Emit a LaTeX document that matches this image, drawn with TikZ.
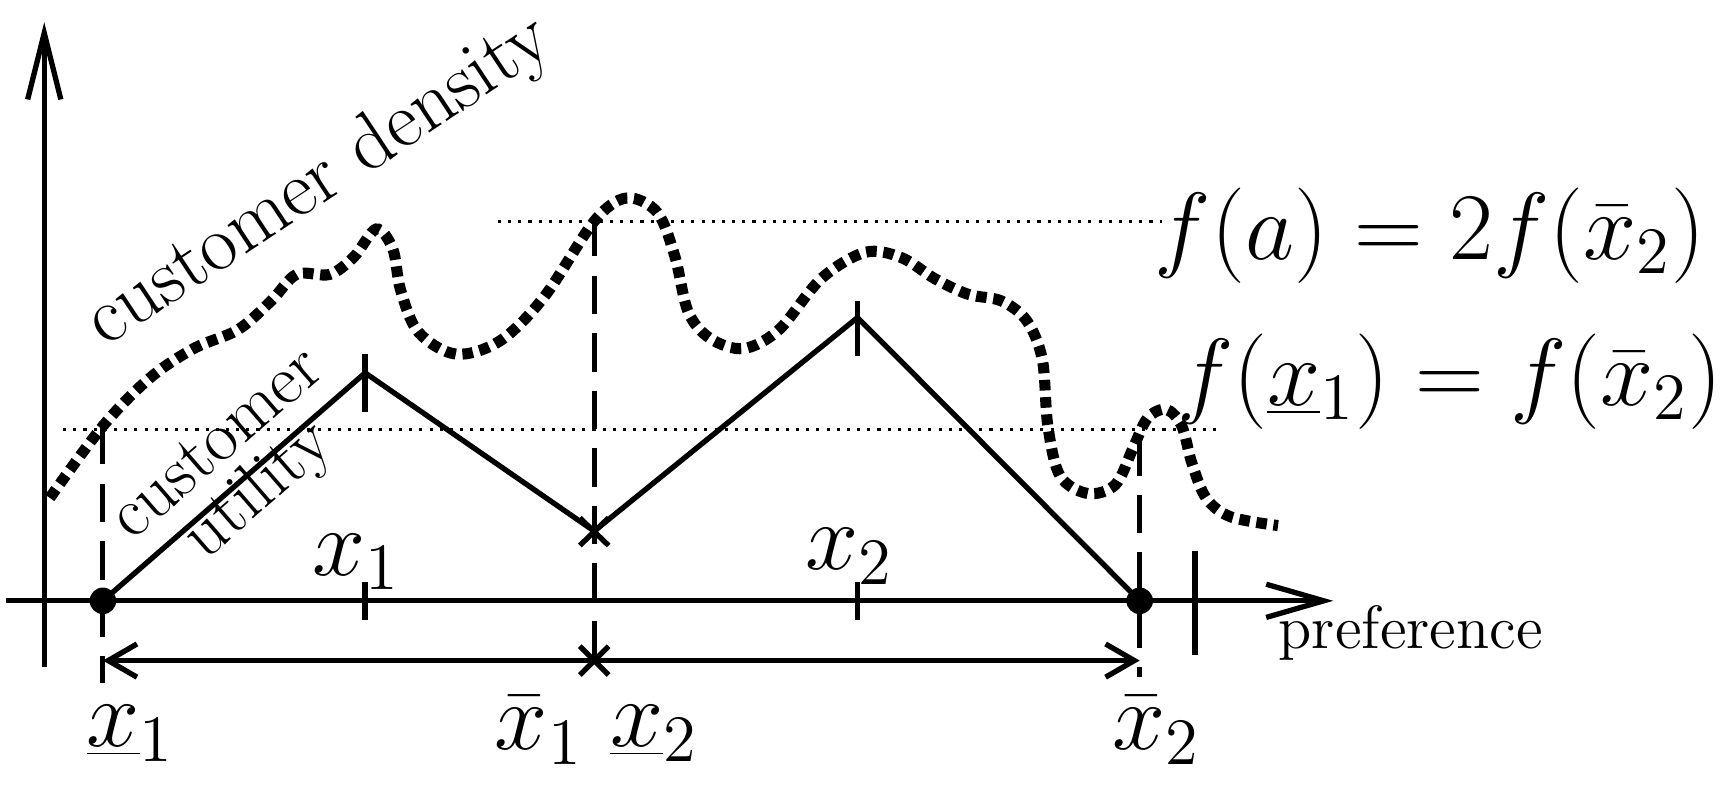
\documentclass[tikz,border=0pt]{standalone}
\usetikzlibrary{arrows.meta}
\newcommand{\bigmathlab}[1]{\scalebox{1.04}{$#1$}}
\begin{document}
\begin{tikzpicture}[x=0.25pt,y=-0.25pt,
  axis/.style={line width=1.2pt},
  util/.style={line width=1.2pt},
  dashv/.style={line width=1.1pt,dash pattern=on 8.7pt off 4.3pt},
  thindot/.style={line width=0.7pt,dash pattern=on 0.7pt off 1.6pt},
  density/.style={line width=2.5pt,dash pattern=on 2.4pt off 1.5pt},
  tickmark/.style={line width=1.2pt},
  dotpt/.style={circle,fill=black,inner sep=0pt,minimum size=6pt},
  biglab/.style={font=\huge,inner sep=0pt},
]
\useasboundingbox (0,0) rectangle (1568,714);

% key points
\coordinate (O) at (40,543);
\coordinate (ytop) at (40,20);
\coordinate (ybot) at (40,603);
\coordinate (xl) at (5,543);
\coordinate (xr) at (1205,543);
\coordinate (a1) at (93,543);
\coordinate (p1) at (330,337);
\coordinate (m) at (537,480);
\coordinate (p2) at (775,287);
\coordinate (b2) at (1030,543);

% axes
\draw[axis,-{Straight Barb[length=15pt,width=7.5pt]}] (ybot) -- (ytop);
\draw[axis,-{Straight Barb[length=13pt,width=7.5pt]}] (xl) -- (xr);

% thin dotted levels
\coordinate (h1s) at (450,200);
\coordinate (h1e) at (1050,200);
\coordinate (h2s) at (57,388);
\coordinate (h2e) at (1100,388);
\draw[thindot] (h1s) -- (h1e);
\draw[thindot] (h2s) -- (h2e);

% dashed verticals
\coordinate (d1t) at (93,385);  \coordinate (d1b) at (93,617);
\coordinate (d2t) at (537,197); \coordinate (d2b) at (537,612);
\coordinate (d3t) at (1030,395);\coordinate (d3b) at (1030,612);
\draw[dashv] (d1t) -- (d1b);
\draw[dashv] (d2t) -- (d2b);
\draw[dashv] (d3t) -- (d3b);

% density curve
\draw[density] plot[smooth,tension=0.55] coordinates {
 (45,450) (93,385) (135,342) (175,315) (215,298) (245,272) (268,248)
 (298,248) (320,232) (340,207) (355,225) (362,262) (378,300) (412,320)
 (452,308) (492,268) (537,200) (566,179) (594,192) (610,232) (622,282)
 (642,306) (672,315) (704,298) (742,252) (782,228) (815,233) (845,252)
 (875,266) (905,272) (928,290) (942,325) (947,385) (958,430) (983,446)
 (1008,438) (1024,405) (1037,378) (1054,370) (1068,385) (1077,418)
 (1090,450) (1112,467) (1155,475)};

% utility
\draw[util] (a1) -- (p1) -- (m) -- (p2) -- (b2);

% ticks
\draw[tickmark] (330,320) -- (330,372);
\draw[tickmark] (330,526) -- (330,560);
\draw[tickmark] (775,272) -- (775,322);
\draw[tickmark] (775,526) -- (775,560);
\draw[tickmark] (1080,498) -- (1080,592);

% cross marks
\draw[tickmark] (524,468) -- (550,493) (524,493) -- (550,468);
\draw[tickmark] (524,584) -- (550,610) (524,610) -- (550,584);

% interval arrows
\coordinate (ar) at (537,597);
\coordinate (al) at (93,597);
\coordinate (ab) at (1030,597);
\draw[util,-{Straight Barb[length=6.5pt,width=7.5pt]}] (ar) -- (al);
\draw[util,-{Straight Barb[length=6.5pt,width=7.5pt]}] (ar) -- (ab);

% dots
\node[dotpt] (dA) at (a1) {};
\node[dotpt] (dB) at (b2) {};

% labels
\node[biglab] (lx1u) at (118,663) {\bigmathlab{\underline{x}_1}};
\node[biglab] (lx1b) at (487,660) {\bigmathlab{\bar{x}_1}};
\node[biglab] (lx2u) at (591,663) {\bigmathlab{\underline{x}_2}};
\node[biglab] (lx2b) at (1045,660) {\bigmathlab{\bar{x}_2}};
\node[biglab] (lx1) at (322,508) {\bigmathlab{x_1}};
\node[biglab] (lx2) at (768,503) {\bigmathlab{x_2}};
\node[font=\fontsize{13.8}{16}\selectfont,inner sep=0pt] (pref) at (1275,572) {preference};
\node[biglab,anchor=west] (fa) at (1043,213) {\bigmathlab{f(a) = 2f(\bar{x}_2)}};
\node[biglab,anchor=west] (fx) at (1063,345) {\bigmathlab{f(\underline{x}_1) = f(\bar{x}_2)}};
\node[font=\fontsize{18}{21}\selectfont,inner sep=0pt,rotate=33.5] (cd) at (289,165) {customer density};
\node[font=\fontsize{16}{14}\selectfont,inner sep=0pt,rotate=41,align=center] (cu) at (217,425) {customer\\utility};
\end{tikzpicture}
\end{document}
